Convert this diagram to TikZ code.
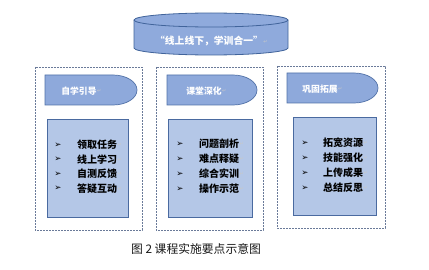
\documentclass[tikz,border=0pt]{standalone}
\usepackage{fontspec}
\newfontfamily\cjk{Noto Sans CJK SC}
\newfontfamily\dv{DejaVu Sans}
\definecolor{cylfill}{HTML}{8FAADC}
\definecolor{cyldraw}{HTML}{41649B}
\definecolor{tabfill}{HTML}{8EA9DB}
\definecolor{tabdraw}{HTML}{5272A8}
\definecolor{innfill}{HTML}{B4C7E7}
\definecolor{inndraw}{HTML}{4A6AA0}
\definecolor{dashc}{HTML}{6A7A99}
\definecolor{markc}{HTML}{C8C8C8}
\tikzset{
  cyl/.style={fill=cylfill,draw=cyldraw,line width=0.8pt},
  tabbox/.style={fill=tabfill,draw=tabdraw,line width=0.7pt},
  innbox/.style={fill=innfill,draw=inndraw,line width=0.8pt},
  outbox/.style={draw=dashc,line width=0.7pt,dash pattern=on 2pt off 1pt},
  item/.style={anchor=west,inner sep=0pt,font=\cjk\bfseries\fontsize{10}{12}\selectfont,text=black},
  bul/.style={inner sep=0pt,font=\dv\fontsize{8.5}{9}\selectfont,text=black},
  tabtext/.style={inner sep=0pt,font=\cjk\bfseries\fontsize{8.8}{10}\selectfont,text=white},
  pm/.style={anchor=west,inner sep=0pt,font=\dv\fontsize{5}{6}\selectfont,text=markc},
}
\begin{document}
\begin{tikzpicture}[x=1pt,y=-1pt]
\useasboundingbox[fill=white] (0,0) rectangle (429,270);
% cylinder
\path[cyl] (134,20) -- (134,48) arc[start angle=180,end angle=360,x radius=77pt,y radius=7pt] -- (288,20) arc[start angle=0,end angle=180,x radius=77pt,y radius=7pt] -- cycle;
\draw[cyldraw,line width=0.8pt] (134,20) arc[start angle=180,end angle=360,x radius=77pt,y radius=7pt];
\node[inner sep=0pt,font=\cjk\bfseries\fontsize{9.8}{11}\selectfont,text=white] (title) at (209,41.5) {“线上线下，学训合一”};
\node[pm] (titlepm) at (title.east) {↵};
% dashed outer boxes
\draw[outbox] (35,67) rectangle (142,230);
\draw[outbox] (156,67) rectangle (263,230);
\draw[outbox] (277,66) rectangle (385,228);
% tabs
\path[tabbox] (45,75) -- (113,75) arc[start angle=90,end angle=-90,x radius=24pt,y radius=15pt] -- (45,105) -- cycle;
\path[tabbox] (167,75) -- (233,75) arc[start angle=90,end angle=-90,x radius=24pt,y radius=15pt] -- (167,105) -- cycle;
\path[tabbox] (287,73) -- (354,73) arc[start angle=90,end angle=-90,x radius=24pt,y radius=15pt] -- (287,103) -- cycle;
\node[tabtext] (t1) at (79,91) {自学引导};
\node[tabtext] (t2) at (204,91) {课堂深化};
\node[tabtext] (t3) at (320,89) {巩固拓展};
\node[pm] at (t1.east) {↵};
\node[pm] at (t2.east) {↵};
\node[pm] at (t3.east) {↵};
% inner boxes
\draw[innbox] (47,119) rectangle (128,217);
\draw[innbox] (168,119) rectangle (252,217);
\draw[innbox] (293,117) rectangle (376,215);
% items
\foreach \y/\t [count=\i] in {145/领取任务,159.5/线上学习,174/自测反馈,188.5/答疑互动}{
  \node[bul] (b1\i) at (58,\y) {➢};
  \node[item] (a1\i) at (77,\y) {\t};
  \node[pm] at (a1\i.east) {↵};
}
\foreach \y/\t [count=\i] in {144/问题剖析,159/难点释疑,174/综合实训,189/操作示范}{
  \node[bul] (b2\i) at (180,\y) {➢};
  \node[item] (a2\i) at (199,\y) {\t};
  \node[pm] at (a2\i.east) {↵};
}
\foreach \y/\t [count=\i] in {143/拓宽资源,158/技能强化,173/上传成果,188/总结反思}{
  \node[bul] (b3\i) at (305,\y) {➢};
  \node[item] (a3\i) at (323,\y) {\t};
  \node[pm] at (a3\i.east) {↵};
}
% caption
\node[inner sep=0pt,font=\cjk\fontsize{11.8}{14}\selectfont,text=black!90] (cap) at (196,249) {图 2 课程实施要点示意图};
\end{tikzpicture}
\end{document}
